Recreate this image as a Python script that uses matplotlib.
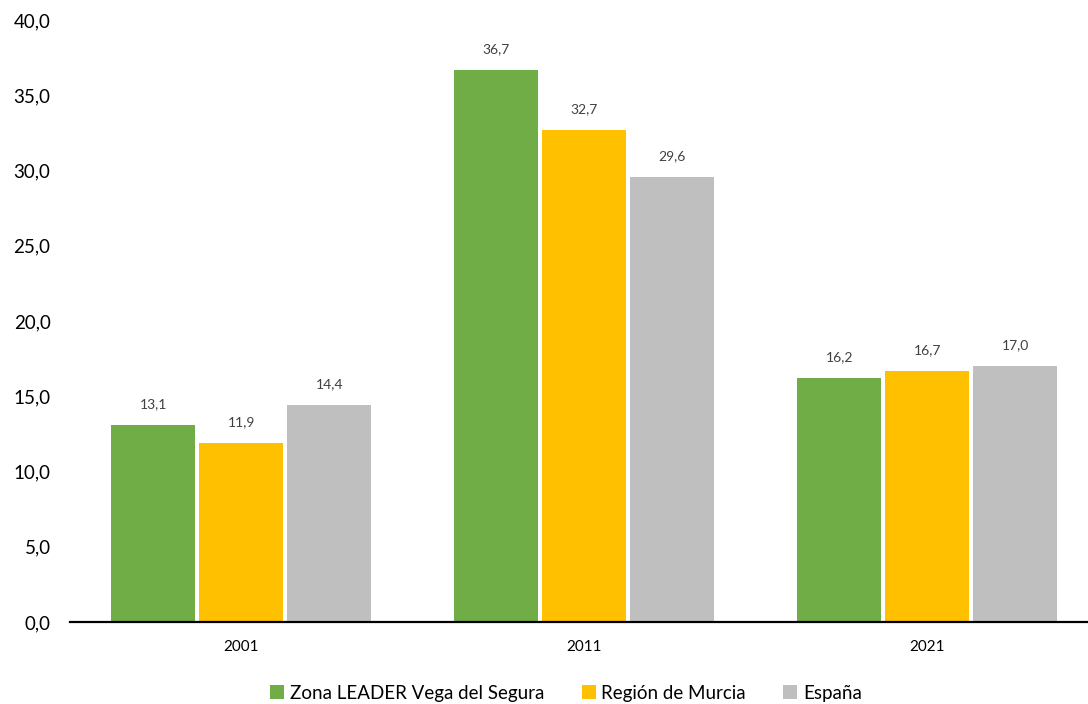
import numpy as np
import matplotlib.pyplot as plt

# datos
years = ['2001', '2011', '2021']
series_names = ['Zona LEADER Vega del Segura', 'Región de Murcia', 'España']
zona_leader = [13.1, 36.7, 16.2]
region_murcia = [11.9, 32.7, 16.7]
espana = [14.4, 29.6, 17.0]
colors = ['#70AD47', '#FFC000', '#BFBFBF']
yticks = [0, 5, 10, 15, 20, 25, 30, 35, 40]

plt.rcParams['font.family'] = ['Lato', 'DejaVu Sans']

fig = plt.figure(figsize=(10.88, 7.04), dpi=100)
ax = fig.add_axes([70 / 1088, 1 - 622 / 704, 1028.5 / 1088, 602 / 704])

x = np.arange(len(years))
pitch = 0.2566
width = 0.245
all_series = [zona_leader, region_murcia, espana]

for i, (vals, name, col) in enumerate(zip(all_series, series_names, colors)):
    pos = x + (i - 1) * pitch
    bars = ax.bar(pos, vals, width=width, color=col, label=name, zorder=2)
    for b, v in zip(bars, vals):
        ax.annotate(f'{v:.1f}'.replace('.', ','),
                    (b.get_x() + b.get_width() / 2, v),
                    xytext=(0, 15), textcoords='offset points',
                    ha='center', va='center', fontsize=10, color='#404040')

ax.set_xlim(-0.5, 2.5)
ax.set_ylim(0, 40)
ax.set_xticks(x)
ax.set_xticklabels(years, fontsize=11)
ax.set_yticks(yticks)
ax.set_yticklabels([f'{t:.1f}'.replace('.', ',') for t in yticks], fontsize=13.5)
ax.tick_params(axis='x', length=0, pad=13)
ax.tick_params(axis='y', length=0, pad=14)

for s in ['top', 'right', 'left']:
    ax.spines[s].set_visible(False)
ax.spines['bottom'].set_linewidth(1.6)
ax.spines['bottom'].set_color('black')
ax.spines['bottom'].set_zorder(3)

fig.legend(loc='center', bbox_to_anchor=(566 / 1088, 1 - 693 / 704), ncol=3,
           frameon=False, fontsize=13.5, handlelength=0.75, handleheight=0.75,
           handletextpad=0.3, columnspacing=2.0)

fig.savefig('out.png', dpi=100)
